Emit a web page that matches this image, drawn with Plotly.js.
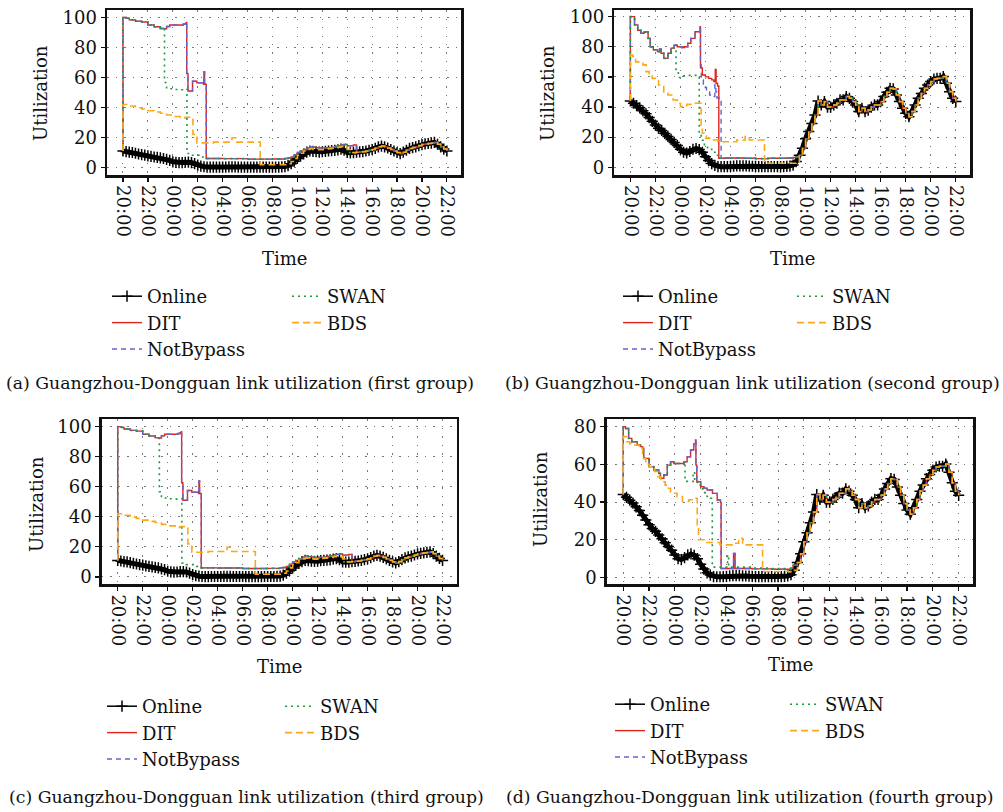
<!DOCTYPE html>
<html>
<head>
<meta charset="utf-8">
<script src="https://cdn.plot.ly/plotly-3.0.1.min.js"></script>
<style>html,body{margin:0;padding:0;background:#fff}#chart{width:1003px;height:812px}</style>
</head>
<body>
<div id="chart"></div>
<script>
// ---------- DATA ----------
// Online utilization, sampled every 15 min from 20:00 (day 1) to 22:00 (day 2)
const onlineA = [
  11, 10.6, 10.2, 10,   9.5, 9, 8.6, 8.2,   7.8, 7.4, 7, 6.7,   6.4, 6, 5.4, 4.8,
  3.8, 3.4, 3.2, 3.3,   3.5, 3.6, 3.3, 2.6,   1.6, 0.9, 0.5, 0.3,  0.2, 0.2, 0.3, 0.3,
  0.3, 0.3, 0.4, 0.4,   0.4, 0.3, 0.3, 0.3,   0.3, 0.2, 0.2, 0.2,  0.2, 0.2, 0.2, 0.3,
  0.3, 0.3, 0.3, 0.4,   0.6, 1.2, 2.5, 4.2,   6, 7.6, 9, 10.2,     11, 10.8, 10.5, 10.3,
  10.5, 10.8, 11, 11.2, 11.4, 11.8, 12.2, 11.5, 10, 9.8, 9.9, 10.2, 10.4, 10.6, 11, 11.5,
  12, 12.8, 13.8, 14.3, 13.8, 13, 12, 11,     10, 9.3, 10.2, 11.5,  12.7, 13.3, 13.8, 14.6,
  15.3, 15.7, 16, 16.3, 16.7, 15.5, 13.8, 12.3, 11
];
const onlineB = [
  44, 42.5, 41, 39.5,   37.5, 35.5, 33, 30.5,  28, 26, 24.5, 22.5,  20.5, 18.5, 16.5, 14.5,
  12, 10, 9.5, 10.5,    12, 12.5, 11.8, 10,    7, 4.5, 2.5, 1.3,     0.5, 0.4, 0.4, 0.5,
  0.6, 0.8, 1, 1,       1, 0.9, 0.8, 0.7,      0.6, 0.5, 0.5, 0.5,   0.5, 0.5, 0.5, 0.5,
  0.5, 0.5, 0.6, 0.8,   1.5, 3.8, 8, 12.6,     19, 23.7, 29, 34.7,   44, 41.4, 43.6, 40,
  40, 41.4, 42.5, 44.7, 44.7, 47, 45.8, 43.6,  41.4, 37, 39.2, 37,   38, 40, 41.4, 41.4,
  43.6, 47, 49.8, 52.4, 52, 48, 43.6, 39.2,    35.8, 33.6, 37, 41.4, 45.8, 49, 52.4, 54.6,
  56.9, 58.6, 59, 59,   60.2, 55.8, 50.2, 45.8, 43.6
];

// Group A (panels a and c): step series, change points then they follow Online
const ditA_t = ['20:00','20:00','20:15','20:30','21:00','21:30','22:00','22:30','23:00','23:15','23:30','23:45','00:30','00:50','01:00','01:05','01:07','01:13','01:35','01:56','02:28','02:30','02:33','02:41','04:00','06:00','08:00','09:00','09:15','09:30','09:45','10:00','10:15','10:30','10:45','11:00','11:15','11:30','11:45','12:00','12:15','12:30','12:45','13:00','13:15','13:30','13:45','14:00','14:15','14:30'];
const ditA_v = [11, 100, 99.5, 98.4, 97.5, 97, 95, 93.8, 92.7, 92.5, 94, 95, 95, 95.5, 96, 96.7, 62.7, 51, 57.5, 56.4, 55.5, 63.8, 55.5, 6, 5.9, 5.6, 5.7, 6, 6.3, 7, 8.5, 10, 11, 12, 13, 13.8, 13.5, 13.2, 13, 13, 13, 13.2, 13.6, 14, 14.5, 15, 15.3, 14.5, 14.5, 15];
const ditA_tail = '14:45';
const notBypassA_t = ditA_t;
const notBypassA_v = ditA_v;
const notBypassA_tail = '14:45';
const swanA_t = ['20:00','20:00','20:15','20:30','21:00','21:30','22:00','22:30','23:00','23:15','23:20','23:30','00:00','00:30','01:08','01:08','01:30','02:20','02:41','04:00','06:00','08:00','09:00','09:15','09:30','09:45','10:00','10:15','10:30','10:45','11:00','11:15','11:30','11:45','12:00','12:15','12:30','12:45','13:00','13:15','13:30','13:45'];
const swanA_v = [11, 100, 99.5, 98.4, 97.5, 97, 95, 93.8, 92.7, 92.5, 56.7, 52.5, 52, 51.8, 52.5, 9.3, 8.2, 7, 6, 5.9, 5.6, 5.7, 6, 6.3, 7, 8.5, 10, 11, 12, 13, 13.8, 13.5, 13.2, 13, 13, 13, 13.2, 13.6, 14, 14.5, 15, 15.3];
const swanA_tail = '14:00';
const bdsA_t = ['20:00','20:00','20:30','21:00','21:30','22:00','22:30','23:00','23:30','00:00','00:35','01:00','01:35','01:37','01:56','03:15','04:45','05:08','07:00','07:01','09:00','09:15','09:30','09:45','10:00','10:15','10:30','10:45','11:00','11:15','11:30','11:45','12:00','12:15','12:30','12:45','13:00','13:15','13:30','13:45','14:00','14:15'];
const bdsA_v = [11, 42, 41, 39.8, 39, 37.8, 37, 36.2, 35, 34, 33, 33.5, 33, 22, 16.4, 16.9, 19.8, 16.9, 16.9, 1.8, 1.8, 2.5, 4, 6, 8, 9.5, 11, 12, 12.5, 12, 12, 11.8, 12, 12.3, 12.5, 12.8, 13, 13.5, 14, 13.5, 12, 10];
const bdsA_tail = '14:30';

// Group B (panel b)
const ditB_t = ['20:00','20:00','20:10','20:20','20:35','20:50','21:05','21:12','21:25','21:35','21:50','22:10','22:20','22:27','22:40','23:00','23:15','23:30','23:45','00:05','00:20','00:35','00:50','01:10','01:34','01:36','01:45','02:00','02:15','02:30','02:40','02:47','02:51','02:58','03:04','03:30','05:00','06:00','07:00','08:30','09:00','09:15'];
const ditB_v = [44, 100, 100, 94.5, 91, 89, 89.6, 90, 85.6, 80, 78, 76.8, 78.5, 75.7, 72.3, 75.7, 79, 81, 80, 79.4, 80, 82.3, 85.6, 90, 93.4, 66, 61.3, 60, 59, 58, 56.9, 65, 55.8, 54, 6, 6.2, 6, 5.8, 6, 6.2, 6.5, 7];
const ditB_tail = '09:30';
const notBypassB_t = ['20:00','20:00','20:10','20:20','20:35','20:50','21:05','21:12','21:25','21:35','21:50','22:10','22:20','22:27','22:40','23:00','23:15','23:30','23:45','00:05','00:20','00:35','00:50','01:10','01:34','01:36','01:40','01:50','02:05','02:20','02:35','02:45','02:50','02:55','03:15','03:30','05:00','06:00','07:00','08:30','09:00','09:15'];
const notBypassB_v = [44, 100, 100, 94.5, 91, 89, 89.6, 90, 85.6, 80, 78, 76.8, 78.5, 75.7, 72.3, 75.7, 79, 81, 80, 79.4, 80, 82.3, 85.6, 90, 93.4, 68, 58, 53, 50, 48, 47, 55, 50, 46, 6, 6.2, 6, 5.8, 6, 6.2, 6.5, 7];
const notBypassB_tail = '09:30';
const swanB_t = ['20:00','20:00','20:10','20:20','20:35','20:50','21:05','21:12','21:25','21:35','21:50','22:10','22:20','22:27','22:40','23:00','23:15','23:30','23:39','23:50','00:10','00:30','01:29','01:30','01:40','01:55','02:10','02:30','02:50','03:05','03:30','05:00','06:00','07:00','08:30','09:00','09:15'];
const swanB_v = [44, 100, 100, 94.5, 91, 89, 89.6, 90, 85.6, 80, 78, 76.8, 78.5, 75.7, 72.3, 75.7, 79, 81, 63.5, 59.6, 60.7, 61, 61, 21, 18, 14, 12, 10, 8, 6, 6.2, 6, 5.8, 6, 6.2, 6.5, 7];
const swanB_tail = '09:30';
const bdsB_t = ['20:00','20:00','20:10','20:25','20:40','21:00','21:15','21:30','21:45','22:00','22:15','22:40','23:00','23:25','23:45','00:00','00:30','01:00','01:39','01:45','02:05','02:30','03:00','04:30','05:10','05:30','06:42','06:43','09:00'];
const bdsB_v = [44, 74.5, 73.5, 70, 69, 68, 63.5, 61.3, 59, 58, 54.6, 50, 48, 44.7, 42.5, 40.3, 41.8, 42.5, 28, 22.6, 19.2, 18.1, 17, 18.1, 20.4, 18.1, 17, 2.7, 2.7];
const bdsB_tail = '09:15';

// Group D (panel d)
const ditD_t = ['20:00','20:00','20:10','20:25','20:40','21:05','21:20','21:30','21:35','22:00','22:22','22:45','22:53','23:09','23:25','23:40','23:55','00:20','00:42','00:57','01:13','01:28','01:36','01:38','01:42','02:00','02:15','02:30','02:55','03:17','03:32','03:35','04:32','04:33','04:40','06:00','07:30','09:00','09:10'];
const ditD_v = [44, 80, 79, 73.8, 72, 70.3, 69.4, 68.5, 63.2, 58.8, 57, 55.2, 52.6, 54.4, 59.6, 61.4, 60.5, 60.5, 61.4, 64, 67.6, 71, 72.9, 59.6, 50.8, 48.1, 47.3, 46.4, 44.6, 41.1, 39.8, 4.8, 4.8, 12.7, 4.8, 4.6, 4.4, 5, 6.5];
const ditD_tail = '09:30';
const notBypassD_t = ditD_t;
const notBypassD_v = ditD_v;
const notBypassD_tail = '09:30';
const swanD_t = ['20:00','20:00','20:10','20:25','20:40','21:05','21:20','21:30','21:35','22:00','22:22','22:45','22:53','23:09','23:25','23:40','23:55','00:20','00:42','00:47','01:25','01:32','01:45','02:00','02:15','02:30','02:45','02:54','04:05','04:10','06:00','07:30','09:00','09:10'];
const swanD_v = [44, 80, 79, 73.8, 72, 70.3, 69.4, 68.5, 63.2, 58.8, 57, 55.2, 52.6, 54.4, 59.6, 61.4, 60.5, 60.5, 61.4, 51, 56, 51, 49, 47, 45, 43, 42, 5.5, 12, 5.5, 5, 4.8, 5, 6.5];
const swanD_tail = '09:30';
const bdsD_t = ['20:00','20:00','20:15','20:30','20:50','21:15','21:30','21:45','22:00','22:25','22:40','22:55','23:15','23:25','23:40','23:55','00:10','00:35','01:05','01:28','01:44','01:50','02:20','03:30','04:30','04:57','05:15','06:47','06:48','09:00'];
const bdsD_v = [44, 74.7, 72, 71, 70.3, 68.5, 63.2, 60, 58.8, 56.2, 53.5, 50.8, 49, 47.3, 45.5, 44.7, 42.9, 40.3, 41.2, 42, 27, 20, 18.6, 17.3, 18.2, 20.8, 17.3, 17.3, 3.2, 3];
const bdsD_tail = '09:15';

const seriesNames = ['Online', 'DIT', 'NotBypass', 'SWAN', 'BDS'];
const captions = [
  '(a) Guangzhou-Dongguan link utilization (first group)',
  '(b) Guangzhou-Dongguan link utilization (second group)',
  '(c) Guangzhou-Dongguan link utilization (third group)',
  '(d) Guangzhou-Dongguan link utilization (fourth group)'
];

// ---------- HELPERS ----------
const pad = n => String(n).padStart(2, '0');
function toDates(clock) {
  let day = 1, prev = -1;
  return clock.map(s => {
    const [h, m] = s.split(':').map(Number);
    const t = h * 60 + m;
    if (t < prev) day++;
    prev = t;
    return '2024-01-' + pad(day) + ' ' + s;
  });
}
const gridClock = [];
for (let i = 0; i < onlineA.length; i++) {
  const mins = 20 * 60 + i * 15;
  gridClock.push(pad(Math.floor(mins / 60) % 24) + ':' + pad(mins % 60));
}
const gridDates = toDates(gridClock);
function stepSeries(t, v, tail, online) {
  const x = toDates(t);
  const y = v.slice();
  const start = gridDates.indexOf('2024-01-02 ' + tail);
  return { x: x.concat(gridDates.slice(start)), y: y.concat(online.slice(start)) };
}

const FONT = 'DejaVu Serif';
const styles = {
  DIT: { color: '#e0241c', width: 1.4, shape: 'hv' },
  NotBypass: { color: '#6464cc', width: 1.4, dash: '5px,4px', shape: 'hv' },
  SWAN: { color: '#1d9a3e', width: 1.6, dash: '2px,4px', shape: 'hv' },
  BDS: { color: '#fba919', width: 1.6, dash: '7px,4px', shape: 'hv' }
};

const groups = [
  { online: onlineA, s: [[ditA_t, ditA_v, ditA_tail], [notBypassA_t, notBypassA_v, notBypassA_tail], [swanA_t, swanA_v, swanA_tail], [bdsA_t, bdsA_v, bdsA_tail]] },
  { online: onlineB, s: [[ditB_t, ditB_v, ditB_tail], [notBypassB_t, notBypassB_v, notBypassB_tail], [swanB_t, swanB_v, swanB_tail], [bdsB_t, bdsB_v, bdsB_tail]] },
  { online: onlineA, s: [[ditA_t, ditA_v, ditA_tail], [notBypassA_t, notBypassA_v, notBypassA_tail], [swanA_t, swanA_v, swanA_tail], [bdsA_t, bdsA_v, bdsA_tail]] },
  { online: onlineB, s: [[ditD_t, ditD_v, ditD_tail], [notBypassD_t, notBypassD_v, notBypassD_tail], [swanD_t, swanD_v, swanD_tail], [bdsD_t, bdsD_v, bdsD_tail]] }
];

// panel geometry (pixels)
const W = 1003, H = 812;
const panels = [
  { x0: 107, x1: 461, y0: 10, y1: 175, yr: [-5, 105], ydt: 20, leg: [107, 287, 278], ut: [40, 93], tm: [284, 258], cap: [240, 383] },
  { x0: 614.3, x1: 970, y0: 10, y1: 175, yr: [-5.1, 104.4], ydt: 20, leg: [618, 792, 278], ut: [547, 93], tm: [792, 258], cap: [752, 383] },
  { x0: 101.7, x1: 456.7, y0: 419.3, y1: 584.3, yr: [-4.9, 104.9], ydt: 20, leg: [102, 280, 688], ut: [36, 504], tm: [279, 666], cap: [246, 797] },
  { x0: 606.7, x1: 973.3, y0: 419.3, y1: 584.3, yr: [-3.6, 83.9], ydt: 20, leg: [610, 785, 686], ut: [540, 499], tm: [790, 664], cap: [750, 797] }
];

const traces = [];
const layout = {
  width: W, height: H,
  margin: { l: 0, r: 0, t: 0, b: 0 },
  paper_bgcolor: '#fff', plot_bgcolor: '#fff',
  font: { family: FONT, size: 18, color: '#111' },
  showlegend: true,
  annotations: []
};

panels.forEach((p, k) => {
  const n = k + 1;
  const xa = 'xaxis' + (n === 1 ? '' : n), ya = 'yaxis' + (n === 1 ? '' : n);
  const xr = 'x' + (n === 1 ? '' : n), yr = 'y' + (n === 1 ? '' : n);
  const legA = 'legend' + (2 * k === 0 ? '' : 2 * k + 1);
  const legB = 'legend' + (2 * k + 2);
  const axisCommon = {
    showline: true, mirror: true, linecolor: '#111', linewidth: 2.5,
    showgrid: true, gridcolor: '#777', gridwidth: 1, griddash: '1.5px,7px',
    zeroline: false, ticks: 'outside', ticklen: 4, tickwidth: 1.2, tickcolor: '#111',
    tickfont: { family: FONT, size: 18, color: '#111' }
  };
  layout[xa] = Object.assign({}, axisCommon, {
    domain: [p.x0 / W, p.x1 / W], anchor: yr, type: 'date',
    range: ['2024-01-01 18:43', '2024-01-02 23:08'],
    tick0: '2024-01-01 20:00', dtick: 2 * 3600 * 1000, tickformat: '%H:%M', tickangle: 90
  });
  layout[ya] = Object.assign({}, axisCommon, {
    domain: [1 - p.y1 / H, 1 - p.y0 / H], anchor: xr, range: p.yr, dtick: p.ydt, tick0: 0
  });
  layout[legA] = { x: p.leg[0] / W, y: 1 - p.leg[2] / H, xanchor: 'left', yanchor: 'top', bgcolor: 'rgba(0,0,0,0)', font: { family: FONT, size: 18, color: '#111' } };
  layout[legB] = { x: p.leg[1] / W, y: 1 - p.leg[2] / H, xanchor: 'left', yanchor: 'top', bgcolor: 'rgba(0,0,0,0)', font: { family: FONT, size: 18, color: '#111' } };

  const g = groups[k];
  // thick band formed by the dense Online samples
  traces.push({
    type: 'scatter', mode: 'lines', name: 'Online', x: gridDates, y: g.online,
    xaxis: xr, yaxis: yr, showlegend: false, hoverinfo: 'skip',
    line: { color: '#000', width: 5 }
  });
  traces.push({
    type: 'scatter', mode: 'lines+markers', name: 'Online', x: gridDates, y: g.online,
    xaxis: xr, yaxis: yr, legend: legA,
    line: { color: '#000', width: 1.5 },
    marker: { symbol: 'cross-thin', size: 8, color: '#000', line: { color: '#000', width: 1.5 } }
  });
  g.s.forEach((s, j) => {
    const name = seriesNames[j + 1];
    const d = stepSeries(s[0], s[1], s[2], g.online);
    traces.push({
      type: 'scatter', mode: 'lines', name: name, x: d.x, y: d.y,
      xaxis: xr, yaxis: yr, legend: j < 2 ? legA : legB,
      line: styles[name]
    });
  });

  const ann = (text, px, py, extra) => layout.annotations.push(Object.assign({
    text: text, x: px / W, y: 1 - py / H, xref: 'paper', yref: 'paper',
    xanchor: 'center', yanchor: 'middle', showarrow: false,
    font: { family: FONT, size: 18, color: '#111' }
  }, extra || {}));
  ann('Utilization', p.ut[0], p.ut[1], { textangle: -90 });
  ann('Time', p.tm[0], p.tm[1]);
  ann(captions[k], p.cap[0], p.cap[1], { font: { family: FONT, size: 17.3, color: '#111' } });
});

Plotly.newPlot('chart', traces, layout, { displayModeBar: false, staticPlot: true });
</script>
</body>
</html>
